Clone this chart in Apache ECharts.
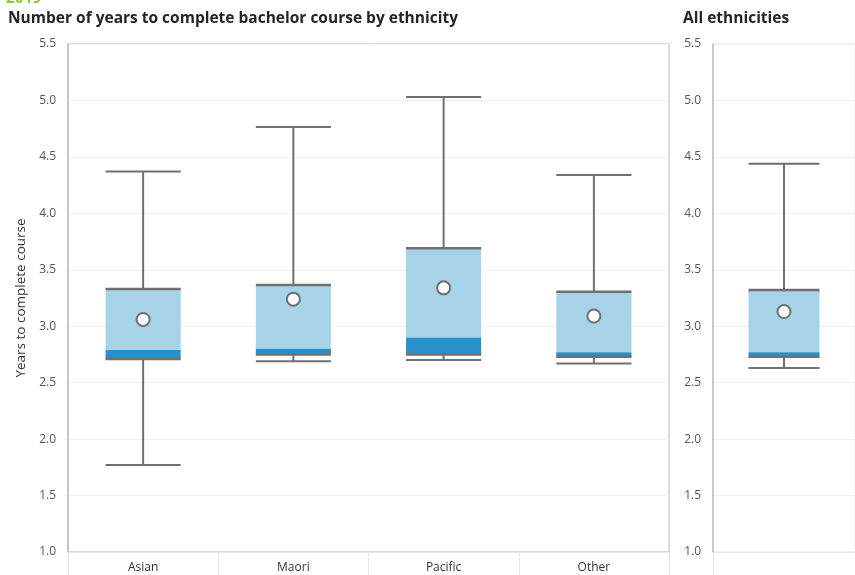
<!DOCTYPE html>
<html>
<head>
<meta charset="utf-8">
<script src="https://cdn.jsdelivr.net/npm/echarts@6/dist/echarts.min.js"></script>
<style>
html,body{margin:0;padding:0;background:#fff;}
#chart{width:855px;height:575px;}
</style>
</head>
<body>
<div id="chart"></div>
<script>
// Data
const categories = ['Asian', 'Maori', 'Pacific', 'Other'];
const allCategories = ['All ethnicities'];
const minValues    = [1.77, 2.69, 2.70, 2.67];
const q1Values     = [2.71, 2.75, 2.75, 2.73];
const medianValues = [2.79, 2.80, 2.90, 2.77];
const q3Values     = [3.33, 3.365, 3.69, 3.305];
const maxValues    = [4.37, 4.765, 5.03, 4.34];
const meanValues   = [3.06, 3.24, 3.34, 3.09];
const allStats = { min: 2.63, q1: 2.73, median: 2.77, q3: 3.32, max: 4.44, mean: 3.13 };
const yTicks = [1.0, 1.5, 2.0, 2.5, 3.0, 3.5, 4.0, 4.5, 5.0, 5.5];

const FONT = '"Open Sans", "Noto Sans", sans-serif';
const GREY = '#707070';
const LIGHT = '#a6d3e8';
const DARK = '#2a90c8';

function boxRender(params, api) {
  const x = api.value(0);
  const pMin = api.coord([x, api.value(1)]);
  const pQ1 = api.coord([x, api.value(2)]);
  const pMed = api.coord([x, api.value(3)]);
  const pQ3 = api.coord([x, api.value(4)]);
  const pMax = api.coord([x, api.value(5)]);
  const w = api.size([1, 0])[0] * 0.5;
  const cx = pQ1[0];
  const l = cx - w / 2, r = cx + w / 2;
  const lineStyle = { stroke: GREY, lineWidth: 2 };
  return {
    type: 'group',
    children: [
      { type: 'rect', shape: { x: l, y: pQ3[1], width: w, height: pMed[1] - pQ3[1] }, style: { fill: LIGHT } },
      { type: 'rect', shape: { x: l, y: pMed[1], width: w, height: pQ1[1] - pMed[1] }, style: { fill: DARK } },
      { type: 'line', shape: { x1: cx, y1: pQ3[1], x2: cx, y2: pMax[1] }, style: lineStyle },
      { type: 'line', shape: { x1: cx, y1: pQ1[1], x2: cx, y2: pMin[1] }, style: lineStyle },
      { type: 'line', shape: { x1: l, y1: pMax[1], x2: r, y2: pMax[1] }, style: lineStyle },
      { type: 'line', shape: { x1: l, y1: pMin[1], x2: r, y2: pMin[1] }, style: lineStyle },
      { type: 'line', shape: { x1: l, y1: pQ3[1], x2: r, y2: pQ3[1] }, style: { stroke: GREY, lineWidth: 2.5 } },
      { type: 'line', shape: { x1: l, y1: pQ1[1], x2: r, y2: pQ1[1] }, style: { stroke: GREY, lineWidth: 2.5 } }
    ]
  };
}

const boxData = categories.map((c, i) => [i, minValues[i], q1Values[i], medianValues[i], q3Values[i], maxValues[i]]);
const meanData = categories.map((c, i) => [i, meanValues[i]]);
const allBoxData = [[0, allStats.min, allStats.q1, allStats.median, allStats.q3, allStats.max]];
const allMeanData = [[0, allStats.mean]];

function yAxis(gridIndex, withName) {
  const ax = {
    type: 'value', gridIndex: gridIndex,
    min: 1.0, max: 5.5, interval: 0.5,
    axisLine: { show: true, lineStyle: { color: '#bdbdbd', width: 1.5 } },
    axisTick: { show: false },
    axisLabel: { color: '#555', fontSize: 12, fontFamily: FONT, margin: 12, formatter: v => v.toFixed(1) },
    splitLine: { show: true, lineStyle: { color: '#f0f0f0', width: 1 } }
  };
  if (withName) {
    ax.name = 'Years to complete course';
    ax.nameLocation = 'middle';
    ax.nameGap = 37;
    ax.nameTextStyle = { color: '#333', fontSize: 13.5, fontFamily: FONT };
  }
  return ax;
}

function xAxis(gridIndex, data) {
  return {
    type: 'category', gridIndex: gridIndex, data: data,
    boundaryGap: true,
    axisLine: { show: true, lineStyle: { color: '#eaeaea', width: 1 } },
    axisTick: { show: true, length: 24, lineStyle: { color: '#e6e6e6' } },
    axisLabel: { show: gridIndex === 0, color: '#333', fontSize: 12, fontFamily: FONT, margin: 10 },
    splitLine: { show: false }
  };
}

const chart = echarts.init(document.getElementById('chart'), null, { renderer: 'canvas' });
chart.setOption({
  animation: false,
  backgroundColor: '#fff',
  title: [
    { text: 'Number of years to complete bachelor course by ethnicity', left: 3, top: 6,
      textStyle: { fontSize: 15.5, fontWeight: 'bold', color: '#252525', fontFamily: FONT } },
    { text: 'All ethnicities', left: 678, top: 6,
      textStyle: { fontSize: 15.5, fontWeight: 'bold', color: '#252525', fontFamily: FONT } }
  ],
  graphic: [
    { type: 'text', x: 6, y: 7, z: 10,
      style: { text: '2019', fill: '#8cc63f', font: 'bold 15.5px "Open Sans", "Noto Sans", sans-serif',
               verticalAlign: 'bottom', align: 'left' } }
  ],
  grid: [
    { left: 68, top: 44, width: 601, height: 508, show: true, borderColor: '#d0d0d0', borderWidth: 1.5, backgroundColor: 'transparent' },
    { left: 713, top: 44, width: 154, height: 508, show: true, borderColor: '#e4e4e4', borderWidth: 1, backgroundColor: 'transparent' }
  ],
  xAxis: [xAxis(0, categories), xAxis(1, allCategories)],
  yAxis: [yAxis(0, true), yAxis(1, false)],
  series: [
    { type: 'custom', xAxisIndex: 0, yAxisIndex: 0, renderItem: boxRender, data: boxData,
      encode: { x: 0, y: [1, 2, 3, 4, 5] }, z: 2 },
    { type: 'scatter', xAxisIndex: 0, yAxisIndex: 0, data: meanData, symbol: 'circle', symbolSize: 13,
      itemStyle: { color: '#fff', borderColor: GREY, borderWidth: 2, opacity: 1 }, z: 5 },
    { type: 'custom', xAxisIndex: 1, yAxisIndex: 1, renderItem: boxRender, data: allBoxData,
      encode: { x: 0, y: [1, 2, 3, 4, 5] }, z: 2 },
    { type: 'scatter', xAxisIndex: 1, yAxisIndex: 1, data: allMeanData, symbol: 'circle', symbolSize: 13,
      itemStyle: { color: '#fff', borderColor: GREY, borderWidth: 2, opacity: 1 }, z: 5 }
  ]
});
</script>
</body>
</html>
